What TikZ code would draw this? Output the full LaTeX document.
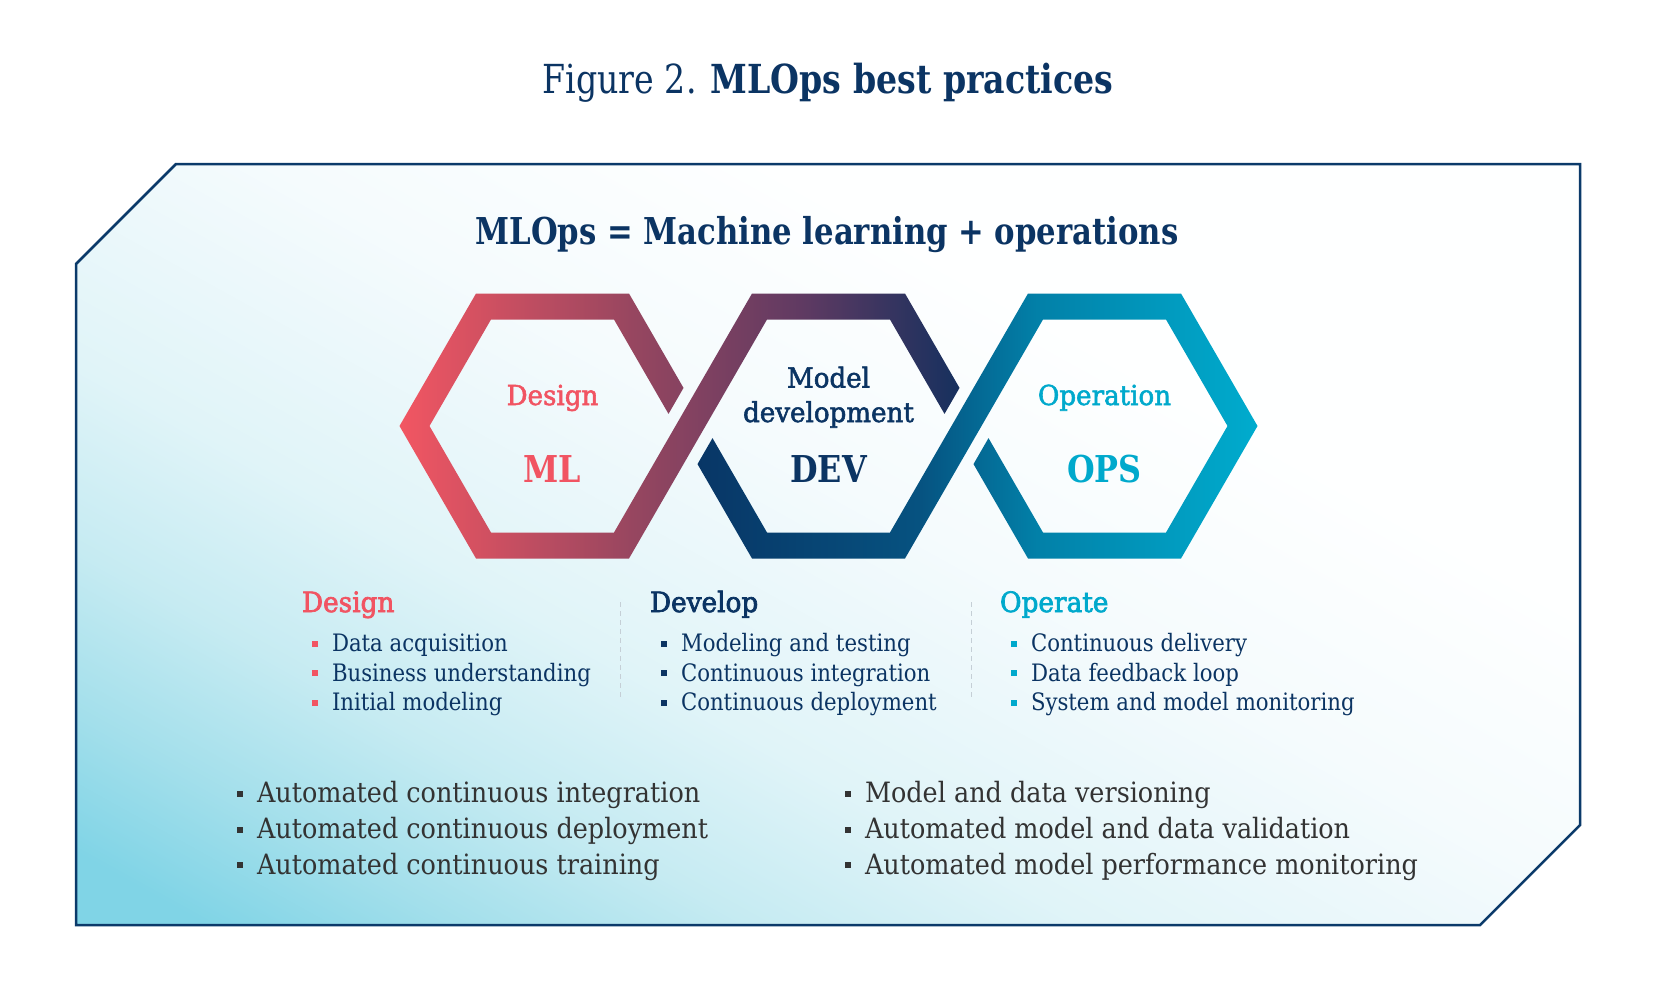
\documentclass[tikz,border=0pt]{standalone}
\usepackage{fontspec}
\setmainfont[FakeStretch=0.83]{DejaVu Serif}
\newfontfamily\itemfont[FakeStretch=0.885]{DejaVu Serif}
\newfontfamily\bottomfont[FakeStretch=0.91]{DejaVu Serif}
\newfontfamily\headfont[FakeStretch=0.94,FakeBold=2.5]{DejaVu Serif}
\newfontfamily\hexsmallfont[FakeStretch=0.95,FakeBold=2.0]{DejaVu Serif}
\newfontfamily\hexbigfont[FakeStretch=0.86]{DejaVu Serif}
\definecolor{navy}{HTML}{0B3463}
\definecolor{framecol}{HTML}{0B3A6A}
\definecolor{coral}{HTML}{F15462}
\definecolor{cyanc}{HTML}{00A9CC}
\definecolor{graytxt}{HTML}{333333}
\definecolor{sepcol}{HTML}{C5CFD6}
\definecolor{rA}{RGB}{242,86,98}
\definecolor{rB}{RGB}{150,70,96}
\definecolor{rC}{RGB}{95,58,98}
\definecolor{rD}{RGB}{22,48,94}
\definecolor{lA}{RGB}{8,54,102}
\definecolor{lB}{RGB}{6,82,128}
\definecolor{lC}{RGB}{2,128,168}
\definecolor{lD}{RGB}{0,172,206}
\definecolor{bgA}{RGB}{128,212,230}
\definecolor{bgB}{RGB}{163,223,235}
\definecolor{bgC}{RGB}{198,235,242}
\definecolor{bgD}{RGB}{224,244,248}
\definecolor{bgE}{RGB}{245,251,253}
\definecolor{bgF}{RGB}{254,255,255}
\pgfdeclarehorizontalshading{upperribbon}{100bp}{color(0bp)=(rA); color(25bp)=(rA); color(46bp)=(rB); color(61bp)=(rC); color(75bp)=(rD); color(100bp)=(rD)}
\pgfdeclarehorizontalshading{lowerribbon}{100bp}{color(0bp)=(lA); color(25bp)=(lA); color(44.7bp)=(lB); color(55.3bp)=(lC); color(75bp)=(lD); color(100bp)=(lD)}
\pgfdeclareverticalshading{bgshade}{100bp}{color(0bp)=(bgA); color(19bp)=(bgA); color(25bp)=(bgB); color(32bp)=(bgC); color(40bp)=(bgD); color(53bp)=(bgE); color(65bp)=(bgF); color(100bp)=(bgF)}
\newcommand\fsz[1]{\fontsize{#1bp}{#1bp}\selectfont}
\newcommand\bul[1]{\textcolor{#1}{\rule[5bp]{6bp}{6bp}}\hspace{14bp}}
\newcommand\bulb[1]{\textcolor{#1}{\rule[6bp]{6bp}{6bp}}\hspace{14bp}}
\tikzset{
  txt/.style={inner sep=0pt, outer sep=0pt},
  item/.style={txt, anchor=base west, font=\itemfont\fsz{24}, text=navy},
  bitem/.style={txt, anchor=base west, font=\bottomfont\fsz{28}, text=graytxt},
  head/.style={txt, anchor=base west, font=\headfont\fsz{28}},
  hexsmall/.style={txt, anchor=base, font=\hexsmallfont\fsz{27.5}},
  hexbig/.style={txt, anchor=base, font=\hexbigfont\bfseries\fsz{37}},
  sep/.style={sepcol, line width=1bp, dash pattern=on 5bp off 4bp},
}
\begin{document}
\begin{tikzpicture}[x=1bp,y=-1bp]
\useasboundingbox (0,0) rectangle (1656,982);
\fill[white] (0,0) rectangle (1656,982);
% frame
\shade[shading=bgshade, shading angle=-29] (176,164) -- (1580,164) -- (1580,825) -- (1480,925) -- (76,925) -- (76,264) -- cycle;
\draw[framecol, line width=2.5bp, line join=miter] (176,164) -- (1580,164) -- (1580,825) -- (1480,925) -- (76,925) -- (76,264) -- cycle;
% ribbons
\shade[shading=upperribbon] (683.5,387.9) -- (629,293.5) -- (476,293.5) -- (399.5,426) -- (476,558.5) -- (629,558.5) -- (767,319.5) -- (890,319.5) -- (944.5,413.9) -- (959.5,387.9) -- (905,293.5) -- (752,293.5) -- (614,532.5) -- (491,532.5) -- (429.5,426) -- (491,319.5) -- (614,319.5) -- (668.5,413.9) -- cycle;
\shade[shading=lowerribbon] (697.5,464.1) -- (752,558.5) -- (905,558.5) -- (1043,319.5) -- (1166,319.5) -- (1227.5,426) -- (1166,532.5) -- (1043,532.5) -- (988.5,438.1) -- (973.5,464.1) -- (1028,558.5) -- (1181,558.5) -- (1257.5,426) -- (1181,293.5) -- (1028,293.5) -- (890,532.5) -- (767,532.5) -- (712.5,438.1) -- cycle;
% titles
\node[txt, anchor=base, font=\fsz{40}, text=navy] (title) at (828,93) {Figure 2. \textbf{MLOps best practices}};
\node[txt, anchor=base, font=\bfseries\fsz{37}, text=navy] (subtitle) at (827,244) {MLOps = Machine learning + operations};
% hexagon labels
\node[hexsmall, text=coral] (hdesign) at (552.5,405) {Design};
\node[hexbig, text=coral] (hml) at (552.5,482.5) {ML};
\node[hexsmall, text=navy] (hmodel) at (828.5,387.5) {Model};
\node[hexsmall, text=navy] (hdevelopment) at (828.5,422) {development};
\node[hexbig, text=navy] (hdev) at (828.5,482.5) {DEV};
\node[hexsmall, text=cyanc] (hoperation) at (1104.5,405) {Operation};
\node[hexbig, text=cyanc] (hops) at (1104.5,482.5) {OPS};
% section headers
\node[head, text=coral] (sdesign) at (302,612) {Design};
\node[head, text=navy] (sdevelop) at (650,612) {Develop};
\node[head, text=cyanc] (soperate) at (1000,612) {Operate};
% separators
\draw[sep] (620,602) -- (620,699);
\draw[sep] (971.5,602) -- (971.5,699);
% design items
\node[item] (d1) at (312,651.5) {\bul{coral}Data acquisition};
\node[item] (d2) at (312,681) {\bul{coral}Business understanding};
\node[item] (d3) at (312,710.5) {\bul{coral}Initial modeling};
% develop items
\node[item] (v1) at (661,651.5) {\bul{navy}Modeling and testing};
\node[item] (v2) at (661,681) {\bul{navy}Continuous integration};
\node[item] (v3) at (661,710.5) {\bul{navy}Continuous deployment};
% operate items
\node[item] (o1) at (1011,651.5) {\bul{cyanc}Continuous delivery};
\node[item] (o2) at (1011,681) {\bul{cyanc}Data feedback loop};
\node[item] (o3) at (1011,710.5) {\bul{cyanc}System and model monitoring};
% bottom lists
\node[bitem] (p1) at (237,802.5) {\bulb{graytxt}Automated continuous integration};
\node[bitem] (p2) at (237,838.5) {\bulb{graytxt}Automated continuous deployment};
\node[bitem] (p3) at (237,874) {\bulb{graytxt}Automated continuous training};
\node[bitem] (q1) at (845,802.5) {\bulb{graytxt}Model and data versioning};
\node[bitem] (q2) at (845,838.5) {\bulb{graytxt}Automated model and data validation};
\node[bitem] (q3) at (845,874) {\bulb{graytxt}Automated model performance monitoring};
\end{tikzpicture}
\end{document}
